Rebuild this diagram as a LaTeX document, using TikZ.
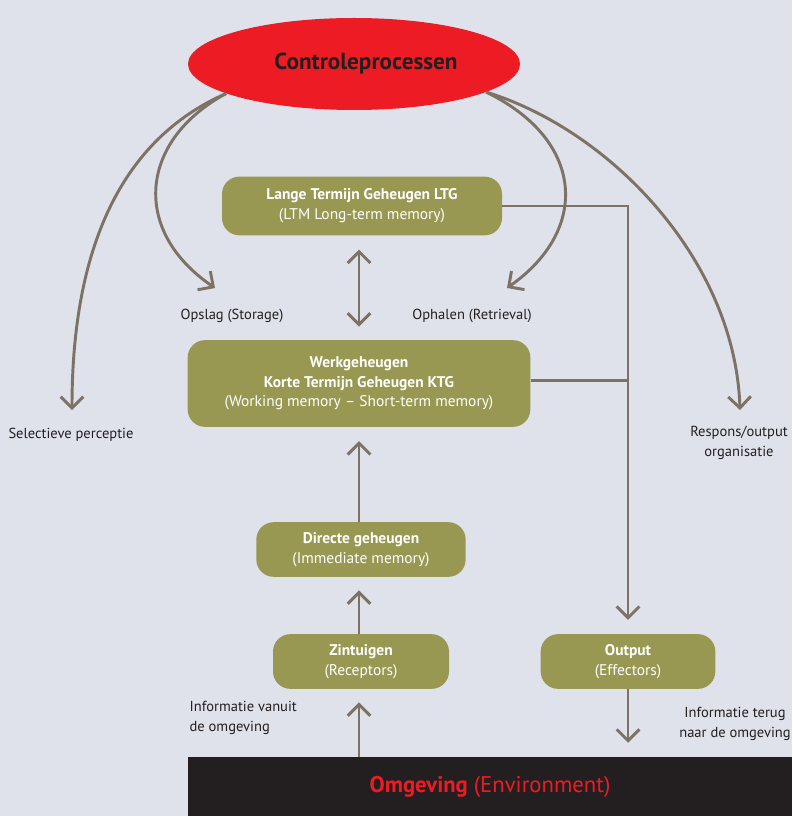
\documentclass[tikz,border=0pt]{standalone}
\usepackage{fontspec}
\setmainfont{PT Sans}
\usepackage{xcolor}
\usepackage{tikz}
\usetikzlibrary{positioning,shapes.geometric,arrows.meta}
\definecolor{ctrlred}{RGB}{237,28,36}
\definecolor{memolive}{RGB}{152,152,82}
\definecolor{flowgray}{RGB}{125,114,102}
\definecolor{envblack}{RGB}{35,31,32}
\definecolor{bggray}{RGB}{223,226,234}

\begin{document}
\begin{tikzpicture}[
        x=0.75pt, y=-0.75pt,
        ctrl/.style={ellipse, fill=ctrlred, inner sep=0pt, minimum width=249pt, minimum height=69pt, text=envblack, font=\fontsize{17.4}{20}\selectfont\bfseries},
        membox/.style={fill=memolive, rounded corners=13pt, inner sep=0pt, align=center, text=white, font=\fontsize{11.6}{14.8}\selectfont},
        lbl/.style={align=center, text=envblack, inner sep=1pt, font=\fontsize{10.9}{15}\selectfont},
        wire/.style={line width=2.2pt, draw=flowgray},
        flow/.style={wire, -{Straight Barb[length=8.5pt,width=17pt]}},
        dflow/.style={wire, {Straight Barb[length=8.5pt,width=17pt]}-{Straight Barb[length=8.5pt,width=17pt]}}
    ]
        \fill[bggray] (0,0) rectangle (792,816);
        \useasboundingbox (0,0) rectangle (792,816);

        % Nodes
        \node (ctrl) [ctrl] at (354,64) {\hspace*{18pt}Controleprocessen};
        \node (ltg) [membox, minimum width=210pt, minimum height=44pt] at (362,206) {\textbf{Lange Termijn Geheugen LTG}\\(LTM Long-term memory)};
        \node (werk) [membox, minimum width=257pt, minimum height=65pt] at (359,383.5) {\textbf{Werkgeheugen}\\\textbf{Korte Termijn Geheugen KTG}\\(Working memory -- Short-term memory)};
        \node (directe) [membox, minimum width=157pt, minimum height=41pt] at (361,549.5) {\textbf{Directe geheugen}\\(Immediate memory)};
        \node (zintuigen) [membox, minimum width=132pt, minimum height=41pt] at (361,661.5) {\textbf{Zintuigen}\\(Receptors)};
        \node (output) [membox, minimum width=131pt, minimum height=41pt] at (628,661.5) {\textbf{Output}\\(Effectors)};
        \node (omgeving) [fill=envblack, inner sep=0pt, minimum width=453pt, minimum height=44.25pt, text=ctrlred, font=\fontsize{17}{20}\selectfont] at (490,786.5) {\textbf{Omgeving} (Environment)};

        % Labels
        \node (opslag) [lbl] at (232,316) {Opslag (Storage)};
        \node (ophalen) [lbl] at (472,316) {Ophalen (Retrieval)};
        \node (selectie) [lbl] at (71,435) {Selectieve perceptie};
        \node (respons) [lbl] at (739,443) {Respons/output\\organisatie};
        \node (vanuit) [lbl, align=left, anchor=west] at (188,718) {Informatie vanuit\\de omgeving};
        \node (terug) [lbl] at (735,724) {Informatie terug\\naar de omgeving};

        \coordinate (selTip) at (72,410);
        \coordinate (opslagTip) at (215,288);
        \coordinate (ophalenTip) at (507,288);
        \coordinate (responsTip) at (740,410);

        % Arrows
        \draw [flow] (ctrl.193) .. controls (120,140) and (72,250) .. (selTip);
        \draw [flow] (ctrl.193) .. controls (140,140) and (130,230) .. (opslagTip);
        \draw [flow] (ctrl.-12) .. controls (585,140) and (590,230) .. (ophalenTip);
        \draw [flow] (ctrl.-12) .. controls (610,130) and (735,260) .. (responsTip);

        \draw [dflow, shorten <=10.5pt, shorten >=10pt] (ltg.south -| werk.north) -- (werk.north);
        \draw [flow, shorten >=10.5pt] (directe.north -| werk.south) -- (werk.south);
        \draw [flow, shorten >=10pt] (zintuigen.north -| werk.south) -- (directe.south -| werk.south);
        \draw [flow, shorten >=10pt] (omgeving.north -| werk.south) -- (zintuigen.south -| werk.south);
        \draw [flow, shorten >=10.5pt] (output.south) -- (output.south |- omgeving.north);
        \draw [flow, shorten >=10.5pt] (ltg.east) -| (output.north);
        \draw [wire] ([yshift=2pt]werk.east) -- ([yshift=2pt]werk.east -| output.north);
    \end{tikzpicture}
\end{document}
